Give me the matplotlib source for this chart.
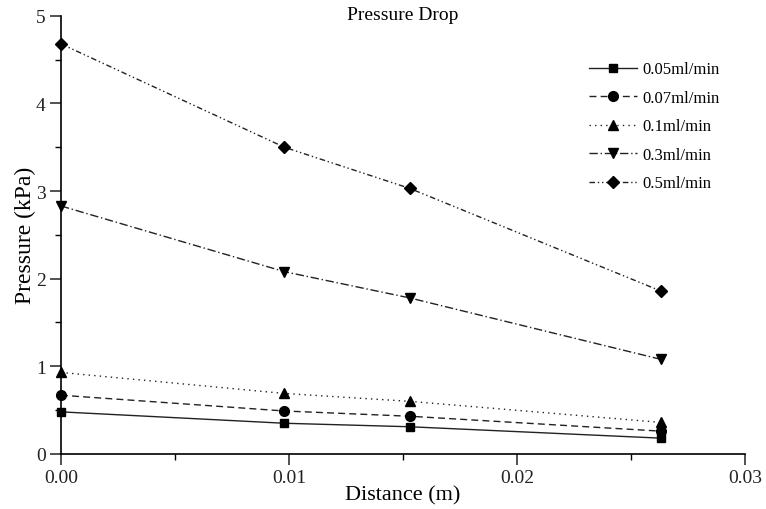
import matplotlib
matplotlib.use("Agg")
import matplotlib.pyplot as plt
from matplotlib.ticker import MultipleLocator

plt.rcParams['font.family'] = ['Liberation Serif', 'DejaVu Serif']

distance = [0.0, 0.0098, 0.0153, 0.0263]
labels = ['0.05ml/min', '0.07ml/min', '0.1ml/min', '0.3ml/min', '0.5ml/min']
p_005 = [0.48, 0.35, 0.31, 0.18]
p_007 = [0.67, 0.49, 0.43, 0.26]
p_01 = [0.93, 0.69, 0.60, 0.36]
p_03 = [2.83, 2.08, 1.78, 1.08]
p_05 = [4.68, 3.50, 3.03, 1.86]

series = [p_005, p_007, p_01, p_03, p_05]
markers = ['s', 'o', '^', 'v', 'D']
styles = ['-', (0, (5, 3)), (0, (1, 3)), (0, (6, 2, 1, 2)), (0, (4, 2, 1, 2, 1, 2))]
msizes = [6, 7, 7, 7, 6]

fig = plt.figure(figsize=(7.66, 5.10), dpi=100)
ax = fig.add_axes([0.0796, 0.108, 0.893, 0.859])
for y, lab, m, ls, ms in zip(series, labels, markers, styles, msizes):
    ax.plot(distance, y, color='#222222', linestyle=ls, linewidth=1.0,
            marker=m, markersize=ms, markerfacecolor='black',
            markeredgecolor='black', label=lab, clip_on=False, zorder=3)

ax.set_xlim(0, 0.03)
ax.set_ylim(0, 5)
ax.xaxis.set_minor_locator(MultipleLocator(0.005))
ax.yaxis.set_minor_locator(MultipleLocator(0.5))
ax.set_xticks([0, 0.01, 0.02, 0.03])
ax.set_xticklabels(['0.00', '0.01', '0.02', '0.03'])
ax.set_yticks([0, 1, 2, 3, 4, 5])
ax.set_yticklabels(['0', '1', '2', '3', '4', '5'])
for s in ['top', 'right']:
    ax.spines[s].set_visible(False)
for s in ['left', 'bottom']:
    ax.spines[s].set_linewidth(1.2)
ax.tick_params(which='major', direction='out', length=8, width=1.1, labelsize=14, colors='#222222', pad=3)
ax.tick_params(which='minor', direction='out', length=4, width=1.0)
ax.set_xlabel('Distance (m)', fontsize=16, labelpad=-1)
ax.set_ylabel('Pressure (kPa)', fontsize=17, labelpad=0)
ax.set_title('Pressure Drop', fontsize=14, pad=-2, y=1.0)

leg = ax.legend(loc='upper left', bbox_to_anchor=(0.75, 0.93), frameon=False,
                fontsize=12, handlelength=2.9, labelspacing=0.75, handletextpad=0.3)

fig.savefig('out.png', dpi=100)
